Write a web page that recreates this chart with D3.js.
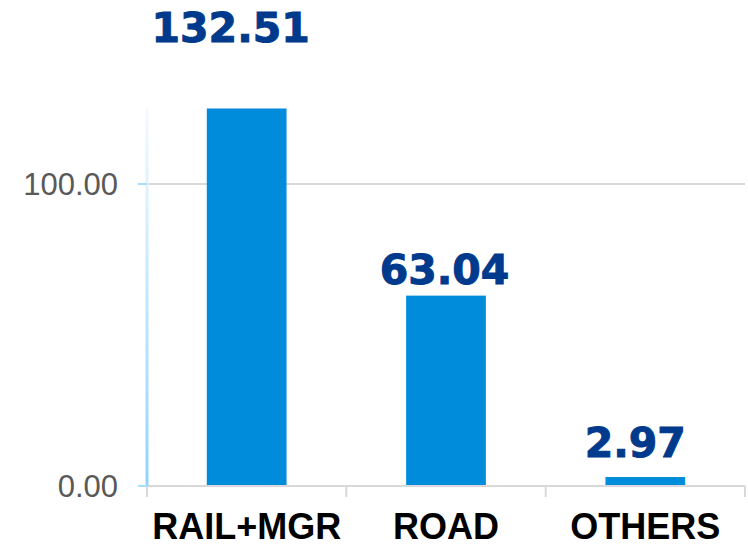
<!DOCTYPE html>
<html>
<head>
<meta charset="utf-8">
<script src="https://cdn.jsdelivr.net/npm/d3@7"></script>
<style>
  html, body { margin: 0; padding: 0; background: #fff; }
  svg { display: block; }
</style>
</head>
<body>
<svg id="chart" width="748" height="547"></svg>
<script>
const categories = ["RAIL+MGR", "ROAD", "OTHERS"];
const values = [132.51, 63.04, 2.97];
const valueLabels = ["132.51", "63.04", "2.97"];
const yTickValues = [0, 100];
const yTickLabels = ["0.00", "100.00"];

const svg = d3.select("#chart");
const W = 748, H = 547;
const margin = { left: 147, right: 3, top: 108.5, bottom: 61 };
const plotW = W - margin.left - margin.right;
const zeroY = H - margin.bottom;

const x = d3.scaleBand().domain(categories).range([margin.left, margin.left + plotW]).paddingInner(0.6).paddingOuter(0.3);
const y = d3.scaleLinear().domain([0, 125]).range([zeroY, margin.top]);

const defs = svg.append("defs");
const grad = defs.append("linearGradient").attr("id", "axisGrad").attr("x1", 0).attr("y1", 0).attr("x2", 0).attr("y2", 1);
grad.append("stop").attr("offset", "0%").attr("stop-color", "#f2faff");
grad.append("stop").attr("offset", "100%").attr("stop-color", "#8fd4ff");
defs.append("clipPath").attr("id", "plotClip")
  .append("rect").attr("x", margin.left).attr("y", margin.top).attr("width", plotW).attr("height", zeroY - margin.top);

// gridlines
svg.append("g").selectAll("line").data(yTickValues.filter(v => v > 0)).join("line")
  .attr("x1", margin.left).attr("x2", margin.left + plotW)
  .attr("y1", d => y(d)).attr("y2", d => y(d))
  .attr("stroke", "#d9d9d9").attr("stroke-width", 2);

// bars
svg.append("g").attr("clip-path", "url(#plotClip)").selectAll("rect").data(values).join("rect")
  .attr("x", (d, i) => x(categories[i]))
  .attr("width", x.bandwidth())
  .attr("y", d => y(d))
  .attr("height", d => zeroY - y(d))
  .attr("fill", "#008cdb");

// x axis
const xAxisG = svg.append("g");
xAxisG.append("line").attr("x1", margin.left).attr("x2", margin.left + plotW)
  .attr("y1", zeroY).attr("y2", zeroY).attr("stroke", "#d9d9d9").attr("stroke-width", 2);
const bounds = d3.range(categories.length + 1).map(i => margin.left + i * plotW / categories.length);
xAxisG.selectAll("line.tick").data(bounds).join("line").attr("class", "tick")
  .attr("x1", d => d).attr("x2", d => d)
  .attr("y1", zeroY).attr("y2", zeroY + 11)
  .attr("stroke", "#d9d9d9").attr("stroke-width", 2);
xAxisG.selectAll("text").data(categories).join("text")
  .attr("x", d => x(d) + x.bandwidth() / 2)
  .attr("y", 539)
  .attr("text-anchor", "middle")
  .attr("font-family", "Liberation Sans, Arial, sans-serif")
  .attr("font-weight", "bold")
  .attr("font-size", 36)
  .attr("fill", "#000")
  .text(d => d);

// y axis
const yAxisG = svg.append("g");
yAxisG.append("rect").attr("x", margin.left - 1.5).attr("y", margin.top).attr("width", 3)
  .attr("height", zeroY - margin.top).attr("fill", "url(#axisGrad)");
yAxisG.selectAll("line").data(yTickValues).join("line")
  .attr("x1", margin.left - 9).attr("x2", margin.left)
  .attr("y1", d => y(d)).attr("y2", d => y(d))
  .attr("stroke", "#a8defc").attr("stroke-width", 2);
yAxisG.selectAll("text").data(yTickValues).join("text")
  .attr("x", 118)
  .attr("y", d => y(d))
  .attr("dy", "0.36em")
  .attr("text-anchor", "end")
  .attr("font-family", "Liberation Sans, Arial, sans-serif")
  .attr("font-size", 31)
  .attr("fill", "#595959")
  .text((d, i) => yTickLabels[i]);

// value labels
const labelNudge = [{ dx: -16, y: 42 }, { dx: -1.5, gap: 12 }, { dx: -10, gap: 20 }];
svg.append("g").selectAll("text").data(values).join("text")
  .attr("x", (d, i) => x(categories[i]) + x.bandwidth() / 2 + labelNudge[i].dx)
  .attr("y", (d, i) => labelNudge[i].y !== undefined ? labelNudge[i].y : y(d) - labelNudge[i].gap)
  .attr("text-anchor", "middle")
  .attr("font-family", "DejaVu Sans, sans-serif")
  .attr("font-weight", "bold")
  .attr("font-size", 41)
  .attr("fill", "#003a8c")
  .attr("stroke", "#003a8c")
  .attr("stroke-width", 1)
  .text((d, i) => valueLabels[i]);
</script>
</body>
</html>
